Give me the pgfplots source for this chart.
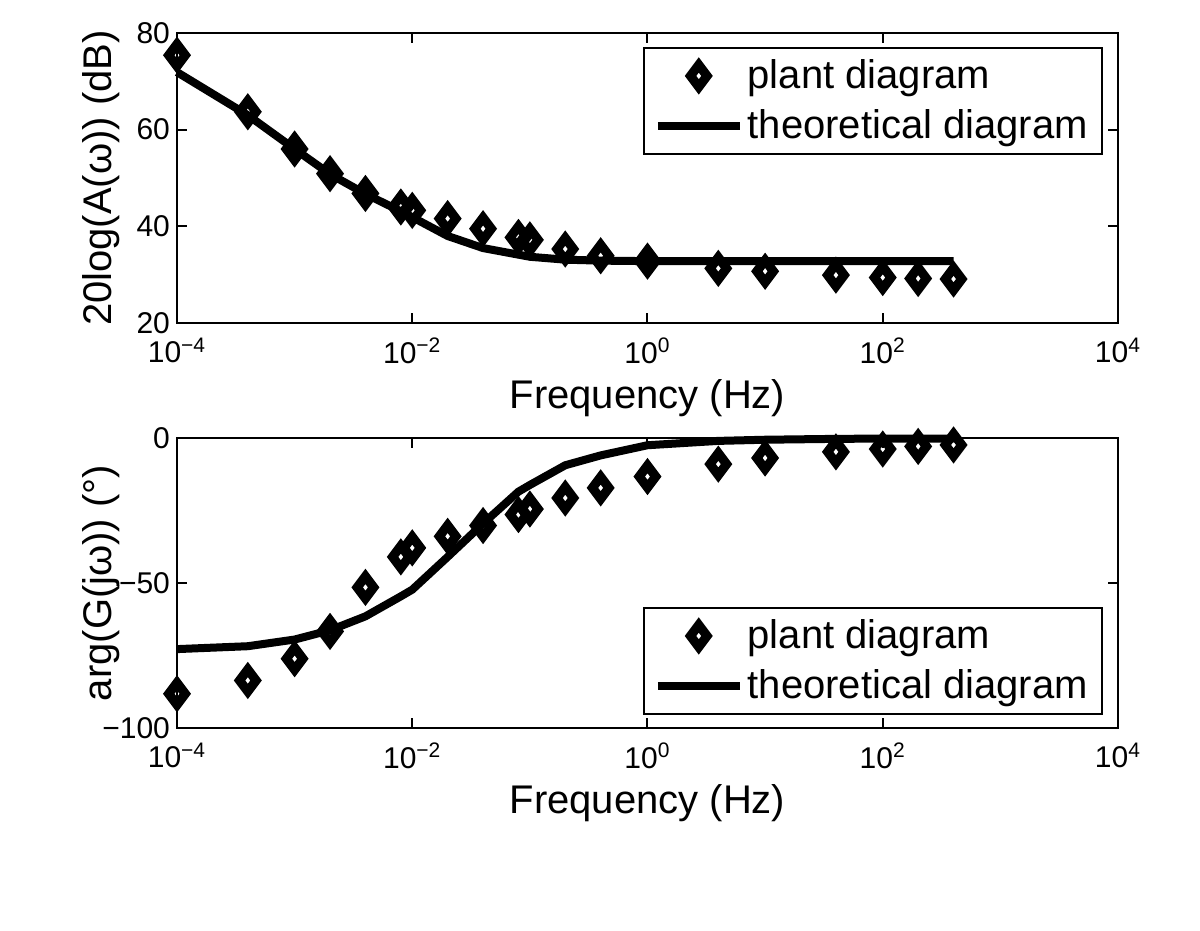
\documentclass[border=0pt]{standalone}
\usepackage{fontspec}
\setmainfont{Liberation Sans}
\usepackage{pgfplots}
\pgfplotsset{compat=1.18}
\pgfplotsset{legend image code/.code={\draw[mark repeat=2,mark phase=2,#1] plot coordinates {(0pt,0pt) (20.5pt,0pt) (41pt,0pt)};}}

\pgfplotstableread{
f      A
1e-4   75.4
4e-4   63.7
1e-3   56.0
2e-3   50.9
4e-3   46.8
8e-3   44.0
1e-2   43.3
2e-2   41.6
4e-2   39.5
8e-2   37.7
1e-1   37.2
2e-1   35.3
4e-1   33.9
1      32.8
4      31.3
10     30.7
40     29.9
100    29.4
200    29.2
400    29.1
}\plantmag

\pgfplotstableread{
f      A
1e-4   71.9
4e-4   63.0
1e-3   56.0
2e-3   50.8
4e-3   46.7
8e-3   43.1
1e-2   41.9
2e-2   38.0
4e-2   35.5
1e-1   33.7
2e-1   33.1
4e-1   32.9
1      32.8
400    32.8
}\theomag

\pgfplotstableread{
f      P
1e-4   -88.2
4e-4   -83.6
1e-3   -76.1
2e-3   -66.7
4e-3   -51.5
8e-3   -41.0
1e-2   -37.9
2e-2   -33.9
4e-2   -30.2
8e-2   -26.4
1e-1   -24.5
2e-1   -20.7
4e-1   -17.2
1      -13.3
4      -9.0
10     -6.9
40     -4.8
100    -3.8
200    -2.9
400    -2.4
}\plantphase

\pgfplotstableread{
f      P
1e-4   -72.8
4e-4   -71.8
1e-3   -69.5
2e-3   -66.3
4e-3   -61.5
8e-3   -54.6
1e-2   -52.3
2e-2   -41.0
4e-2   -29.5
8e-2   -18.5
1e-1   -16.2
2e-1   -9.4
4e-1   -6.0
1      -2.5
4      -1.0
10     -0.6
40     -0.3
100    -0.2
400    -0.2
}\theophase

\begin{document}
\begin{tikzpicture}
\path[use as bounding box] (0,0) rectangle (600pt,465.5pt);

\begin{axis}[xmode=log, scale only axis, width=470.5pt, height=145pt,
    at={(88.5pt,304pt)}, anchor=south west,
    xmin=1e-4, xmax=1e4,
    xtick={1e-4,1e-2,1,1e2,1e4},
    xticklabels={10\textsuperscript{−4},10\textsuperscript{−2},10\textsuperscript{0},10\textsuperscript{2},10\textsuperscript{4}},
    xminorticks=false,
    tick align=inside, major tick length=5pt,
    axis line style={line width=1pt},
    every tick/.style={line width=1pt, black},
    tick label style={font=\fontsize{15}{17}\selectfont},
    xticklabel style={yshift=-4pt},
    label style={font=\fontsize{20}{24}\selectfont},
    xlabel={Frequency (Hz)},
    xlabel style={at={(axis description cs:0.5,-0.26)}, anchor=center},
    ylabel style={at={(axis description cs:-0.081,0.5)}, anchor=center},
    clip=false,
    legend cell align=left,
    ymin=20, ymax=80, ytick={20,40,60,80}, yticklabels={20,40,60,80},
    ylabel={20log(A(ω)) (dB)},
    legend style={draw=black, line width=1pt, fill=white,
      font=\fontsize{20}{24}\selectfont, inner xsep=5pt, inner ysep=4pt,
      row sep=5pt,
      at={(0.984,0.952)}, anchor=north east}]
\addplot[only marks, mark=diamond, mark size=5.5pt,
    mark options={line width=4.6pt, fill=white, draw=black, solid}]
    table[x=f,y=A] {\plantmag};
\addlegendentry{plant diagram}
\addplot[black, line width=4pt, no marks]
    table[x=f,y=A] {\theomag};
\addlegendentry{theoretical diagram}
\end{axis}

\begin{axis}[xmode=log, scale only axis, width=470.5pt, height=145pt,
    at={(88.5pt,101.5pt)}, anchor=south west,
    xmin=1e-4, xmax=1e4,
    xtick={1e-4,1e-2,1,1e2,1e4},
    xticklabels={10\textsuperscript{−4},10\textsuperscript{−2},10\textsuperscript{0},10\textsuperscript{2},10\textsuperscript{4}},
    xminorticks=false,
    tick align=inside, major tick length=5pt,
    axis line style={line width=1pt},
    every tick/.style={line width=1pt, black},
    tick label style={font=\fontsize{15}{17}\selectfont},
    xticklabel style={yshift=-4pt},
    label style={font=\fontsize{20}{24}\selectfont},
    xlabel={Frequency (Hz)},
    xlabel style={at={(axis description cs:0.5,-0.26)}, anchor=center},
    ylabel style={at={(axis description cs:-0.081,0.5)}, anchor=center},
    clip=false,
    legend cell align=left,
    ymin=-100, ymax=0, ytick={-100,-50,0}, yticklabels={−100,−50,0},
    ylabel={arg(G(jω)) (°)},
    legend style={draw=black, line width=1pt, fill=white,
      font=\fontsize{20}{24}\selectfont, inner xsep=5pt, inner ysep=4pt,
      row sep=5pt,
      at={(0.984,0.045)}, anchor=south east}]
\addplot[only marks, mark=diamond, mark size=5.5pt,
    mark options={line width=4.6pt, fill=white, draw=black, solid}]
    table[x=f,y=P] {\plantphase};
\addlegendentry{plant diagram}
\addplot[black, line width=4pt, no marks]
    table[x=f,y=P] {\theophase};
\addlegendentry{theoretical diagram}
\end{axis}
\end{tikzpicture}
\end{document}
